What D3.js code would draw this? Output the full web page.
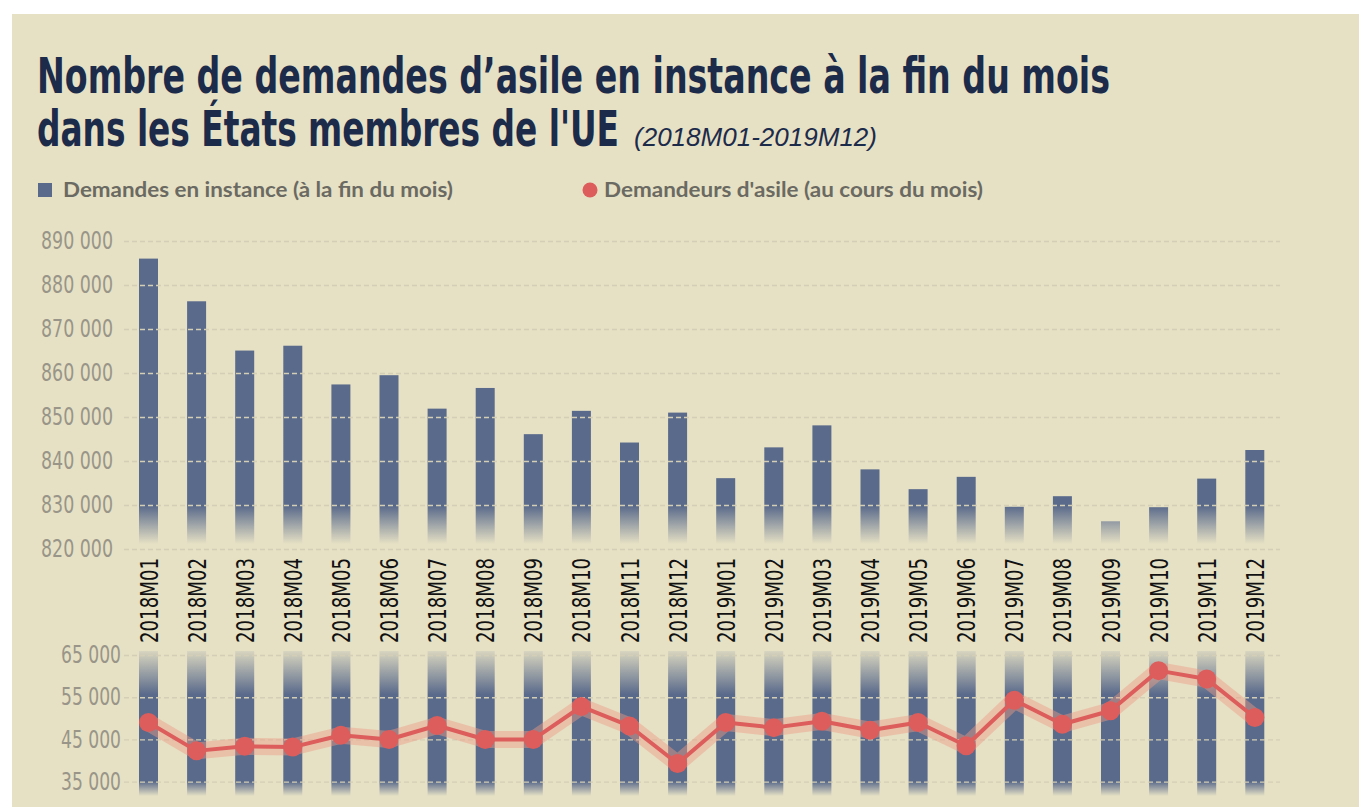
<!DOCTYPE html>
<html>
<head>
<meta charset="utf-8">
<script src="https://cdn.jsdelivr.net/npm/d3@7"></script>
<style>
  body { margin: 0; background: #fff; }
  .axis text { font-family: "Liberation Sans Narrow", "DejaVu Sans Condensed", sans-serif; }
</style>
</head>
<body>
<script>
var w = 1359;
var h = 807;

// data
var months = ["2018M01", "2018M02", "2018M03", "2018M04", "2018M05", "2018M06",
  "2018M07", "2018M08", "2018M09", "2018M10", "2018M11", "2018M12",
  "2019M01", "2019M02", "2019M03", "2019M04", "2019M05", "2019M06",
  "2019M07", "2019M08", "2019M09", "2019M10", "2019M11", "2019M12"];
var pending = [886000, 876300, 865100, 866200, 857400, 859500,
  851900, 856600, 846100, 851400, 844200, 851000,
  836100, 843100, 848100, 838100, 833600, 836400,
  829600, 832000, 826300, 829500, 836000, 842500];
var applicants = [49000, 42300, 43400, 43200, 46000, 45000,
  48300, 45000, 45000, 52800, 48200, 39300,
  49000, 47800, 49300, 47200, 49000, 43500,
  54300, 48600, 51800, 61300, 59300, 50200];
var pendingTicks = [820000, 830000, 840000, 850000, 860000, 870000, 880000, 890000];
var applicantTicks = [35000, 45000, 55000, 65000];

var barColor = "#5a6a8b";
var red = "#dc5d5b";
var gridLeft = 124, gridRight = 1280;

var fr = d3.formatLocale({ decimal: ",", thousands: " ", grouping: [3], currency: ["", " €"] });
var fmt = fr.format(",");

var svg = d3.select("body").append("svg").attr("width", w).attr("height", h);

// background panel
svg.append("rect").attr("x", 12).attr("y", 14).attr("width", w - 12).attr("height", h - 14)
  .attr("fill", "#e6e1c5");

// gradients
var defs = svg.append("defs");
var gTop = defs.append("linearGradient").attr("id", "fadeTop")
  .attr("gradientUnits", "userSpaceOnUse").attr("x1", 0).attr("x2", 0).attr("y1", 506).attr("y2", 544);
gTop.append("stop").attr("offset", 0).attr("stop-color", barColor).attr("stop-opacity", 1);
gTop.append("stop").attr("offset", 1).attr("stop-color", barColor).attr("stop-opacity", 0);

var gBot = defs.append("linearGradient").attr("id", "fadeBot")
  .attr("gradientUnits", "userSpaceOnUse").attr("x1", 0).attr("x2", 0).attr("y1", 651).attr("y2", 796);
gBot.append("stop").attr("offset", 0).attr("stop-color", barColor).attr("stop-opacity", 0.1);
gBot.append("stop").attr("offset", 0.3).attr("stop-color", barColor).attr("stop-opacity", 1);
gBot.append("stop").attr("offset", 0.9).attr("stop-color", barColor).attr("stop-opacity", 1);
gBot.append("stop").attr("offset", 1).attr("stop-color", barColor).attr("stop-opacity", 0);

// title (condensed look: smaller font stretched vertically)
var titleFont = '"Liberation Sans Narrow", "DejaVu Sans Condensed", sans-serif';
svg.append("text").attr("transform", "translate(37,93) scale(1,1.2)")
  .attr("font-family", titleFont).attr("font-weight", "bold").attr("font-size", 41)
  .attr("fill", "#1d2b4b").attr("textLength", 1073).attr("lengthAdjust", "spacingAndGlyphs")
  .text("Nombre de demandes d’asile en instance à la fin du mois");
svg.append("text").attr("transform", "translate(37,146) scale(1,1.33)")
  .attr("font-family", titleFont).attr("font-weight", "bold").attr("font-size", 37)
  .attr("fill", "#1d2b4b").attr("textLength", 582).attr("lengthAdjust", "spacingAndGlyphs")
  .text("dans les États membres de l'UE");
svg.append("text").attr("x", 634).attr("y", 146)
  .attr("font-family", '"Liberation Sans", sans-serif').attr("font-style", "italic").attr("font-size", 25)
  .attr("fill", "#1d2b4b").attr("textLength", 243).attr("lengthAdjust", "spacingAndGlyphs")
  .text("(2018M01-2019M12)");

// legend
var legFont = 'Lato, "Liberation Sans", sans-serif';
svg.append("rect").attr("x", 38).attr("y", 183).attr("width", 14).attr("height", 14).attr("fill", barColor);
svg.append("text").attr("x", 63).attr("y", 197)
  .attr("font-family", legFont).attr("font-weight", "bold").attr("font-size", 21).attr("fill", "#6b6a62")
  .attr("textLength", 390).attr("lengthAdjust", "spacingAndGlyphs")
  .text("Demandes en instance (à la fin du mois)");
svg.append("circle").attr("cx", 590).attr("cy", 190).attr("r", 7.5).attr("fill", red);
svg.append("text").attr("x", 604).attr("y", 197)
  .attr("font-family", legFont).attr("font-weight", "bold").attr("font-size", 21).attr("fill", "#6b6a62")
  .attr("textLength", 379).attr("lengthAdjust", "spacingAndGlyphs")
  .text("Demandeurs d'asile (au cours du mois)");

// scales
var x = d3.scaleBand().domain(months).range([124.45, 1278.85])
  .paddingInner(0.605).paddingOuter(0.3025);
var yTop = d3.scaleLinear().domain([820000, 890000]).range([549, 241]);
var yBot = d3.scaleLinear().domain([35000, 65000]).range([781.7, 655]);

// upper bars
svg.append("g").selectAll("rect").data(months).enter().append("rect")
  .attr("x", function (d) { return x(d); })
  .attr("width", x.bandwidth())
  .attr("y", function (d, i) { return yTop(pending[i]); })
  .attr("height", function (d, i) { return yTop(820000) - 5 - yTop(pending[i]); })
  .attr("fill", "url(#fadeTop)");

// lower decorative bars
svg.append("g").selectAll("rect").data(months).enter().append("rect")
  .attr("x", function (d) { return x(d); })
  .attr("width", x.bandwidth())
  .attr("y", 651)
  .attr("height", 145)
  .attr("fill", "url(#fadeBot)");

// axes with dashed grid
function styleAxis(len) {
  return function (g) {
    g.select(".domain").remove();
    g.selectAll(".tick line").attr("stroke", "#d3ceb5").attr("stroke-width", 1.3)
      .attr("stroke-dasharray", "5,3");
    g.selectAll(".tick text").attr("fill", "#999588").attr("font-size", 24)
      .attr("textLength", len).attr("lengthAdjust", "spacingAndGlyphs");
  };
}

svg.append("g").attr("class", "axis").attr("transform", "translate(" + gridLeft + ",0)")
  .call(d3.axisLeft(yTop).tickValues(pendingTicks).tickFormat(fmt)
    .tickSize(-(gridRight - gridLeft)).tickPadding(11))
  .call(styleAxis(72));

svg.append("g").attr("class", "axis").attr("transform", "translate(" + gridLeft + ",0)")
  .call(d3.axisLeft(yBot).tickValues(applicantTicks).tickFormat(fmt)
    .tickSize(-(gridRight - gridLeft)).tickPadding(3))
  .call(styleAxis(60));

// month labels
var xAxis = svg.append("g").attr("class", "axis").attr("transform", "translate(0,549)")
  .call(d3.axisBottom(x).tickSize(0));
xAxis.select(".domain").remove();
xAxis.selectAll("text")
  .attr("transform", "rotate(-90)")
  .attr("x", -9).attr("y", 0).attr("dy", "0.36em")
  .style("text-anchor", "end")
  .attr("fill", "#111").attr("font-size", 25)
  .attr("textLength", 85).attr("lengthAdjust", "spacingAndGlyphs");

// line
var line = d3.line()
  .x(function (d, i) { return x(months[i]) + x.bandwidth() / 2; })
  .y(function (d) { return yBot(d); });

svg.append("path").datum(applicants).attr("d", line)
  .attr("fill", "none").attr("stroke", "#ee9c86").attr("stroke-opacity", 0.45)
  .attr("stroke-width", 17).attr("stroke-linejoin", "round");
svg.append("path").datum(applicants).attr("d", line)
  .attr("fill", "none").attr("stroke", red).attr("stroke-width", 4).attr("stroke-linejoin", "round");
svg.append("g").selectAll("circle").data(applicants).enter().append("circle")
  .attr("cx", function (d, i) { return x(months[i]) + x.bandwidth() / 2; })
  .attr("cy", function (d) { return yBot(d); })
  .attr("r", 9.5)
  .attr("fill", red);
</script>
</body>
</html>
